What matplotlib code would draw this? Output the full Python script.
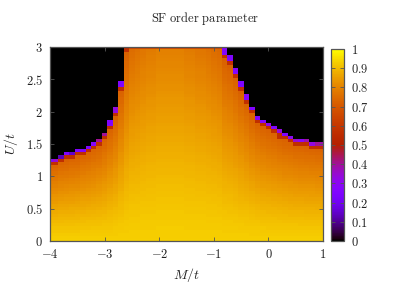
import numpy as np
import matplotlib
matplotlib.use('Agg')
from matplotlib import pyplot as plt
from matplotlib.ticker import FuncFormatter, MultipleLocator

plt.rcParams['mathtext.fontset'] = 'cm'
plt.rcParams['font.family'] = 'serif'
plt.rcParams['font.serif'] = ['DejaVu Serif']

# grid of the scan
M = np.round(np.arange(-4.0, 1.001, 0.1), 1)   # M/t, 51 columns
U = np.round(np.arange(0.0, 3.001, 0.05), 2)   # U/t, 61 rows

# U/t where the SF order vanishes in each column (None = SF up to the top)
u_crit = [1.23, 1.23, 1.28, 1.30, 1.33, 1.35, 1.39, 1.43, 1.48, 1.53,
          1.63, 1.78, 1.98, 2.37, 2.95] + [None] * 17 + \
         [2.85, 2.75, 2.55, 2.35, 2.18, 2.00, 1.87, 1.81, 1.75, 1.70,
          1.65, 1.60, 1.57, 1.54, 1.52, 1.50, 1.49, 1.47, 1.45]

# value in the cells on the boundary (purple / magenta / red)
edge_val = [0.25, 0.35, 0.13, 0.25, 0.15, 0.25, 0.25, 0.25, 0.27, 0.40,
            0.40, 0.25, 0.33, 0.25, 0.55] + [0.0] * 17 + \
           [0.27, 0.25, 0.27, 0.25, 0.27, 0.25, 0.25, 0.27, 0.30, 0.25,
            0.33, 0.25, 0.30, 0.35, 0.30, 0.38, 0.33, 0.40, 0.38]
# number of boundary cells per column
edge_rows = [1, 1, 1, 1, 1, 1, 1, 1, 1, 1, 1, 2, 2, 2, 1] + [0] * 17 + \
            [3, 2, 2, 2, 2, 1, 1, 1, 1, 1, 1, 1, 1, 1, 1, 1, 1, 1, 1]

# SF value just under the boundary (or at U/t = 3 when there is none)
sf_top = [0.72] * 15 + \
         [0.75, 0.76, 0.77, 0.78, 0.78, 0.79, 0.79, 0.79, 0.79, 0.79,
          0.78, 0.78, 0.77, 0.77, 0.76, 0.75, 0.74] + [0.72] * 19
sf_u0 = 0.93        # SF value at U/t = 0
sf_top_row = 0.66   # darker last row in the middle region
sf_red = 0.57       # cell right below the boundary

Z = np.zeros((len(U), len(M)))
for k in range(len(M)):
    uc = u_crit[k]
    u_end = uc if uc is not None else 3.0
    for j, u in enumerate(U):
        if uc is None:
            val = sf_u0 - (sf_u0 - sf_top[k]) * (u / u_end) ** 1.3
            if j == len(U) - 1:
                val = sf_top_row
        elif u > uc + 0.05 * edge_rows[k] + 1e-6:
            val = 0.0
        elif u > uc:
            val = edge_val[k]
        elif u > uc - 0.05:
            val = sf_red
        else:
            val = sf_u0 - (sf_u0 - sf_top[k]) * (u / u_end) ** 1.3
        Z[j, k] = val

fig = plt.figure(figsize=(4.07, 2.85), dpi=100)
ax = fig.add_axes([0.1229, 0.1544, 0.6707, 0.681])
mesh = ax.pcolormesh(M, U, Z, cmap='gnuplot', vmin=0, vmax=1, shading='nearest')
ax.set_xlim(-4, 1)
ax.set_ylim(0, 3)

frame = '#555555'
txt = '#222222'

def fmt(v, pos):
    s = ('%g' % round(v, 2)).replace('-', '-')
    return '$%s$' % s

ax.xaxis.set_major_locator(MultipleLocator(1))
ax.yaxis.set_major_locator(MultipleLocator(0.5))
ax.xaxis.set_major_formatter(FuncFormatter(fmt))
ax.yaxis.set_major_formatter(FuncFormatter(fmt))
ax.tick_params(direction='in', length=3, width=0.6, color=frame,
               labelsize=9, labelcolor=txt, top=True, right=True, pad=5)
for sp in ax.spines.values():
    sp.set_color(frame)
    sp.set_linewidth(0.9)

ax.set_xlabel('$M/t$', fontsize=10, color=txt, labelpad=4)
ax.set_ylabel('$U/t$', fontsize=10, color=txt, labelpad=4)
fig.text(0.504, 0.935, r'$\mathrm{SF\ order\ parameter}$', ha='center',
         va='center', fontsize=9, color=txt)

cax = fig.add_axes([0.813, 0.1544, 0.032, 0.674])
cb = fig.colorbar(mesh, cax=cax)
cb.set_ticks(np.round(np.arange(0, 1.01, 0.1), 1))
cb.ax.yaxis.set_major_formatter(FuncFormatter(fmt))
cb.ax.tick_params(direction='in', length=3, width=0.6, color=frame,
                  labelsize=9, labelcolor=txt, left=True, pad=5)
cb.outline.set_edgecolor(frame)
cb.outline.set_linewidth(0.9)

fig.savefig('out.png', dpi=100)
